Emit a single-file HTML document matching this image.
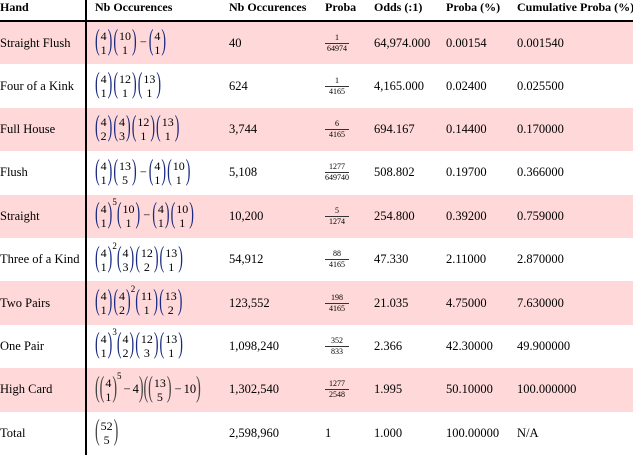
<!DOCTYPE html>
<html><head><meta charset="utf-8"><style>
body{margin:0;width:633px;height:456px;overflow:hidden;background:#fff;font-family:"Liberation Serif",serif;color:#000;font-size:12.5px}
table{border-collapse:collapse;position:absolute;left:0;top:0;width:633px;table-layout:fixed}
td,th{padding:0;text-align:left;vertical-align:middle;white-space:nowrap;overflow:visible}
th{height:20px;font-weight:bold;font-size:12px;vertical-align:top}
thead tr{border-bottom:2px solid #000}
tbody tr{height:43.4px}
tbody tr.pk{background:#ffd9d9}
td.f,th.f{border-left:2px solid #000;padding-left:8px}
.b{display:inline-flex;align-items:center;vertical-align:middle;margin-right:1px}
.p{display:inline-block;font-size:14px;transform:scaleY(2.1);color:#1a2a80;line-height:14px}
.g .p{color:#444}
.s{display:inline-flex;flex-direction:column;align-items:center;font-size:12px;line-height:14px;margin:0 1px}
.e{font-size:9px;vertical-align:top;position:relative;top:-5px;margin-left:-1px}
.m{margin:0 2px}
.fr{display:inline-flex;flex-direction:column;align-items:center;font-size:8px;line-height:10px;vertical-align:middle}
.fr span:first-child{border-bottom:1px solid #333;padding:0 2px;min-width:20px;text-align:center}
</style></head><body>
<table>
<colgroup><col style="width:86px"><col style="width:143px"><col style="width:96px"><col style="width:49px"><col style="width:72px"><col style="width:71px"><col style="width:116px"></colgroup>
<thead><tr>
<th>Hand</th><th class="f">Nb Occurences</th><th>Nb Occurences</th><th>Proba</th><th>Odds (:1)</th><th>Proba (%)</th><th>Cumulative Proba (%)</th></tr></thead>
<tbody>
<tr class="pk"><td>Straight Flush</td><td class="f"><span class="b"><span class="p">(</span><span class="s"><span>4</span><span>1</span></span><span class="p">)</span></span><span class="b"><span class="p">(</span><span class="s"><span>10</span><span>1</span></span><span class="p">)</span></span><span class="m">−</span><span class="b"><span class="p">(</span><span class="s"><span>4</span><span>1</span></span><span class="p">)</span></span></td><td>40</td><td><span class="fr"><span>1</span><span>64974</span></span></td><td>64,974.000</td><td>0.00154</td><td>0.001540</td></tr>
<tr><td>Four of a Kink</td><td class="f"><span class="b"><span class="p">(</span><span class="s"><span>4</span><span>1</span></span><span class="p">)</span></span><span class="b"><span class="p">(</span><span class="s"><span>12</span><span>1</span></span><span class="p">)</span></span><span class="b"><span class="p">(</span><span class="s"><span>13</span><span>1</span></span><span class="p">)</span></span></td><td>624</td><td><span class="fr"><span>1</span><span>4165</span></span></td><td>4,165.000</td><td>0.02400</td><td>0.025500</td></tr>
<tr class="pk"><td>Full House</td><td class="f"><span class="b"><span class="p">(</span><span class="s"><span>4</span><span>2</span></span><span class="p">)</span></span><span class="b"><span class="p">(</span><span class="s"><span>4</span><span>3</span></span><span class="p">)</span></span><span class="b"><span class="p">(</span><span class="s"><span>12</span><span>1</span></span><span class="p">)</span></span><span class="b"><span class="p">(</span><span class="s"><span>13</span><span>1</span></span><span class="p">)</span></span></td><td>3,744</td><td><span class="fr"><span>6</span><span>4165</span></span></td><td>694.167</td><td>0.14400</td><td>0.170000</td></tr>
<tr><td>Flush</td><td class="f"><span class="b"><span class="p">(</span><span class="s"><span>4</span><span>1</span></span><span class="p">)</span></span><span class="b"><span class="p">(</span><span class="s"><span>13</span><span>5</span></span><span class="p">)</span></span><span class="m">−</span><span class="b"><span class="p">(</span><span class="s"><span>4</span><span>1</span></span><span class="p">)</span></span><span class="b"><span class="p">(</span><span class="s"><span>10</span><span>1</span></span><span class="p">)</span></span></td><td>5,108</td><td><span class="fr"><span>1277</span><span>649740</span></span></td><td>508.802</td><td>0.19700</td><td>0.366000</td></tr>
<tr class="pk"><td>Straight</td><td class="f"><span class="b"><span class="p">(</span><span class="s"><span>4</span><span>1</span></span><span class="p">)</span></span><span class="e">5</span><span class="b"><span class="p">(</span><span class="s"><span>10</span><span>1</span></span><span class="p">)</span></span><span class="m">−</span><span class="b"><span class="p">(</span><span class="s"><span>4</span><span>1</span></span><span class="p">)</span></span><span class="b"><span class="p">(</span><span class="s"><span>10</span><span>1</span></span><span class="p">)</span></span></td><td>10,200</td><td><span class="fr"><span>5</span><span>1274</span></span></td><td>254.800</td><td>0.39200</td><td>0.759000</td></tr>
<tr><td>Three of a Kind</td><td class="f"><span class="b"><span class="p">(</span><span class="s"><span>4</span><span>1</span></span><span class="p">)</span></span><span class="e">2</span><span class="b"><span class="p">(</span><span class="s"><span>4</span><span>3</span></span><span class="p">)</span></span><span class="b"><span class="p">(</span><span class="s"><span>12</span><span>2</span></span><span class="p">)</span></span><span class="b"><span class="p">(</span><span class="s"><span>13</span><span>1</span></span><span class="p">)</span></span></td><td>54,912</td><td><span class="fr"><span>88</span><span>4165</span></span></td><td>47.330</td><td>2.11000</td><td>2.870000</td></tr>
<tr class="pk"><td>Two Pairs</td><td class="f"><span class="b"><span class="p">(</span><span class="s"><span>4</span><span>1</span></span><span class="p">)</span></span><span class="b"><span class="p">(</span><span class="s"><span>4</span><span>2</span></span><span class="p">)</span></span><span class="e">2</span><span class="b"><span class="p">(</span><span class="s"><span>11</span><span>1</span></span><span class="p">)</span></span><span class="b"><span class="p">(</span><span class="s"><span>13</span><span>2</span></span><span class="p">)</span></span></td><td>123,552</td><td><span class="fr"><span>198</span><span>4165</span></span></td><td>21.035</td><td>4.75000</td><td>7.630000</td></tr>
<tr><td>One Pair</td><td class="f"><span class="b"><span class="p">(</span><span class="s"><span>4</span><span>1</span></span><span class="p">)</span></span><span class="e">3</span><span class="b"><span class="p">(</span><span class="s"><span>4</span><span>2</span></span><span class="p">)</span></span><span class="b"><span class="p">(</span><span class="s"><span>12</span><span>3</span></span><span class="p">)</span></span><span class="b"><span class="p">(</span><span class="s"><span>13</span><span>1</span></span><span class="p">)</span></span></td><td>1,098,240</td><td><span class="fr"><span>352</span><span>833</span></span></td><td>2.366</td><td>42.30000</td><td>49.900000</td></tr>
<tr class="pk"><td>High Card</td><td class="f g"><span class="b"><span class="p">(</span><span class="p">(</span><span class="s"><span>4</span><span>1</span></span><span class="p">)</span></span><span class="e">5</span><span class="m">−</span>4<span class="b"><span class="p">)</span><span class="p">(</span><span class="p">(</span><span class="s"><span>13</span><span>5</span></span><span class="p">)</span></span><span class="m">−</span>10<span class="b"><span class="p">)</span></span></td><td>1,302,540</td><td><span class="fr"><span>1277</span><span>2548</span></span></td><td>1.995</td><td>50.10000</td><td>100.000000</td></tr>
<tr><td>Total</td><td class="f g"><span class="b"><span class="p">(</span><span class="s"><span>52</span><span>5</span></span><span class="p">)</span></span></td><td>2,598,960</td><td>1</td><td>1.000</td><td>100.00000</td><td>N/A</td></tr>
</tbody></table>
</body></html>
